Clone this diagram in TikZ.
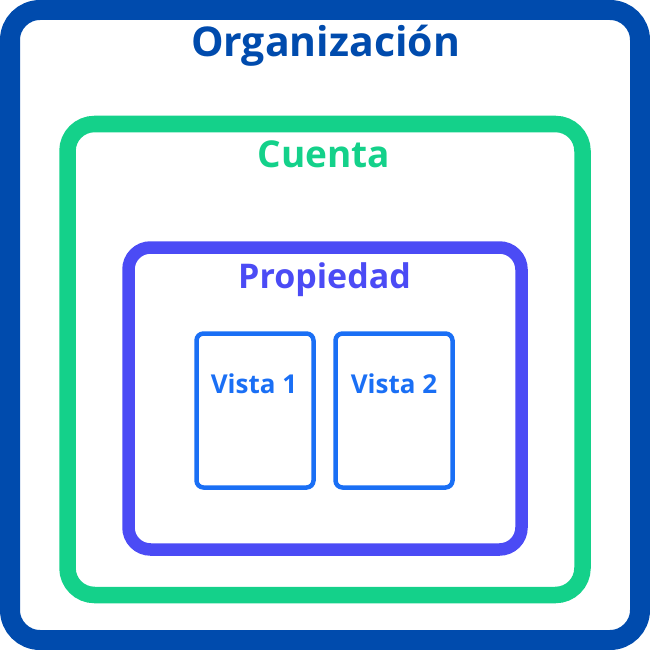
\documentclass[tikz,border=0pt]{standalone}
\usepackage{fontspec}
\setmainfont{Open Sans}
\usepackage{tikz}
\definecolor{orgblue}{RGB}{0,75,173}
\definecolor{cuentagreen}{RGB}{20,209,138}
\definecolor{propviolet}{RGB}{75,75,245}
\definecolor{vistablue}{RGB}{26,111,245}

\begin{document}
\begin{tikzpicture}[x=1pt,y=-1pt]
\useasboundingbox (0,0) rectangle (650,650);
\begin{scope}[font=\bfseries,
box/.style={draw, rectangle, inner sep=0pt, outer sep=0pt}]
% draws boxes
\node[box, draw=orgblue, line width=20pt, rounded corners=30pt,
minimum width=630pt, minimum height=630pt] (org) at (325,325) {};
\node[box, draw=cuentagreen, line width=16.5pt, rounded corners=27pt,
minimum width=515pt, minimum height=471pt] (cuenta) at (325,359.5) {};
\node[box, draw=propviolet, line width=12.5pt, rounded corners=22pt,
minimum width=393pt, minimum height=302pt] (prop) at (325,398.5) {};
\node[box, draw=vistablue, line width=4.5pt, rounded corners=7pt,
minimum width=117pt, minimum height=154pt] (vista1) at (255,410.5) {};
\node[box, draw=vistablue, line width=4.5pt, rounded corners=7pt,
minimum width=117pt, minimum height=154pt] (vista2) at (394,410.5) {};
% labels boxes
\node[anchor=base, text=orgblue, font=\bfseries\fontsize{41}{41}\selectfont]
(orglabel) at (325.5,57) {Organización};
\node[anchor=base, text=cuentagreen, font=\bfseries\fontsize{37}{37}\selectfont]
(cuentalabel) at (324,167) {Cuenta};
\node[anchor=base, text=propviolet, font=\bfseries\fontsize{34}{34}\selectfont]
(proplabel) at (324.5,288) {Propiedad};
\node[anchor=base, text=vistablue, font=\bfseries\fontsize{26}{26}\selectfont]
(vista1label) at (254,393) {Vista 1};
\node[anchor=base, text=vistablue, font=\bfseries\fontsize{26}{26}\selectfont]
(vista2label) at (394,393) {Vista 2};
\end{scope}
\end{tikzpicture}
\end{document}
